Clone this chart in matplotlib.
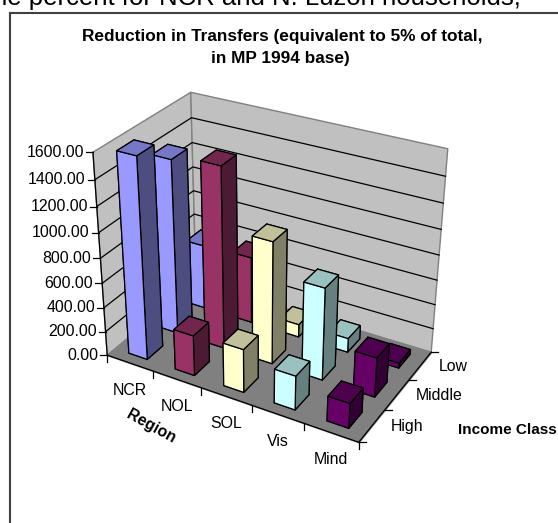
import numpy as np
import matplotlib
matplotlib.use("Agg")
import matplotlib.pyplot as plt
from mpl_toolkits.mplot3d import proj3d
from mpl_toolkits.mplot3d.art3d import Poly3DCollection

plt.rcParams['font.family'] = ['Liberation Sans', 'DejaVu Sans']

# --- data ---
regions = ["NCR", "NOL", "SOL", "Vis", "Mind"]
income = ["High", "Middle", "Low"]
value_ticks = [0, 200, 400, 600, 800, 1000, 1200, 1400, 1600]

high = [1598, 330, 351, 274, 199]
middle = [1409, 1455, 987, 744, 320]
low = [540, 553, 105, 115, 40]

# front, top, side colours of each region
front_cols = ["#9999FF", "#993366", "#FFFFCC", "#CCFFFF", "#660066"]
top_cols = ["#7777C8", "#73264D", "#C0C09A", "#9AC0C0", "#4D004D"]
side_cols = ["#4D4D80", "#4D1A33", "#808066", "#668080", "#330033"]

W, H = 558, 523
BAR_W = 0.4
BAR_D = 0.5

# box corner -> pixel; used to fit the camera
box_pts = [(0, 0, 0), (5, 0, 0), (5, 3, 0), (0, 3, 0), (0, 0, 1600), (0, 3, 1600), (5, 3, 1600)]
pix_pts = [(109, 355), (358, 443), (432.3, 351), (194, 282), (91.7, 151.7), (192.3, 92.3), (447.3, 149.3)]


def fit_camera(box, pix):
    """Projection matrix from world to pixels (least squares)."""
    A = []
    b = []
    for (x, y, z), (u, v) in zip(box, pix):
        A.append([x, y, z, 1, 0, 0, 0, 0, -u*x, -u*y, -u*z])
        b.append(u)
        A.append([0, 0, 0, 0, x, y, z, 1, -v*x, -v*y, -v*z])
        b.append(v)
    p = np.linalg.lstsq(np.array(A, float), np.array(b, float), rcond=None)[0]
    p = np.append(p, 1).reshape(3, 4)
    # last row -1/w as depth, so that far things get the larger value
    return np.array([p[0], p[1], [0, 0, 0, -1], p[2]])


M = fit_camera(box_pts, pix_pts)

fig = plt.figure(figsize=(W/100, H/100), dpi=100, facecolor="white")
ax = fig.add_axes([0, 0, 1, 1], projection="3d")
ax.get_proj = lambda: M
ax.apply_aspect = lambda position=None: None
ax.set_axis_off()
ax.computed_zorder = False
ax.viewLim.intervalx = (0, W)
ax.viewLim.intervaly = (H, 0)


def project(x, y, z):
    u, v, _ = proj3d.proj_transform(x, y, z, M)
    return float(u), float(v)


def line3(xs, ys, zs):
    pts = [project(x, y, z) for x, y, z in zip(xs, ys, zs)]
    ax.add_line(plt.Line2D([p[0] for p in pts], [p[1] for p in pts], color="black", lw=0.9, zorder=3))


# walls and floor
top = value_ticks[-1]
walls = [[(0, 0, 0), (0, 3, 0), (0, 3, top), (0, 0, top)],
         [(0, 3, 0), (5, 3, 0), (5, 3, top), (0, 3, top)]]
ax.add_collection3d(Poly3DCollection(walls, facecolors="#C0C0C0", edgecolors="#808080",
                                     linewidths=1, zorder=1))
floor = [[(0, 0, 0), (5, 0, 0), (5, 3, 0), (0, 3, 0)]]
ax.add_collection3d(Poly3DCollection(floor, facecolors="#808080", edgecolors="#808080",
                                     linewidths=1, zorder=2))

# gridlines
for v in value_ticks[1:-1]:
    line3([0, 0, 5], [0, 3, 3], [v, v, v])
line3([0, 5], [0, 0], [0, 0])
line3([5, 5], [0, 3], [0, 0])
line3([0, 0], [0, 0], [0, top])

# bars, back row first
rows = [high, middle, low]
for j in [2, 1, 0]:
    for i, reg in enumerate(regions):
        cols = [side_cols[i], top_cols[i], front_cols[i], side_cols[i], side_cols[i], side_cols[i]]
        ax.bar3d(i + 0.5 - BAR_W/2, j + 0.5 - BAR_D/2, 0, BAR_W, BAR_D, rows[j][i],
                 color=cols, edgecolor="black", linewidth=0.9, shade=False,
                 zorder=10 + (2 - j)*10 + i)

# value axis
for v in value_ticks:
    u, w = project(0, 0, v)
    ax.add_line(plt.Line2D([u - 7, u], [w, w], color="black", lw=0.9, zorder=3))
    ax.text2D(u - 9, w, f"{v:.2f}", ha="right", va="center", fontsize=11.4, color="black",
              transform=ax.transData)

# region axis
for i in range(len(regions) + 1):
    u, w = project(i, 0, 0)
    ax.add_line(plt.Line2D([u, u], [w, w + 7], color="black", lw=0.9, zorder=3))
for i, reg in enumerate(regions):
    u, w = project(i + 0.5, 0, 0)
    ax.text2D(u, w + 27, reg, ha="center", va="center", fontsize=11.4, transform=ax.transData)

# income axis
for j in range(len(income) + 1):
    u, w = project(5, j, 0)
    ax.add_line(plt.Line2D([u, u + 7], [w, w], color="black", lw=0.9, zorder=3))
for j, name in enumerate(income):
    u, w = project(5, j + 0.5, 0)
    ax.text2D(u + 19, w + 0.5, name, ha="left", va="center", fontsize=11.4, transform=ax.transData)

# titles
ax.text2D(282, 36, "Reduction in Transfers (equivalent to 5% of total,", ha="center", va="center",
          fontsize=12.4, fontweight="bold", transform=ax.transData)
ax.text2D(280, 59, "in MP 1994 base)", ha="center", va="center",
          fontsize=12.4, fontweight="bold", transform=ax.transData)
ax.text2D(151, 426, "Region", rotation=-29, ha="center", va="center", fontsize=11.4,
          fontweight="bold", rotation_mode="anchor", transform=ax.transData)
ax.text2D(557, 430, "Income Class", ha="right", va="center", fontsize=11, fontweight="bold",
          transform=ax.transData)

# chart border, and the line of body text cut off above it
ax.add_line(plt.Line2D([10, 558], [13, 13], color="#404040", lw=1.5))
ax.add_line(plt.Line2D([10, 10], [13, 523], color="#404040", lw=1.5))
ax.text2D(-6.8, 5.5, "he percent for NCR and N. Luzon households,", ha="left", va="baseline",
          fontsize=18.5, transform=ax.transData)

fig.savefig("out.png", dpi=100)
